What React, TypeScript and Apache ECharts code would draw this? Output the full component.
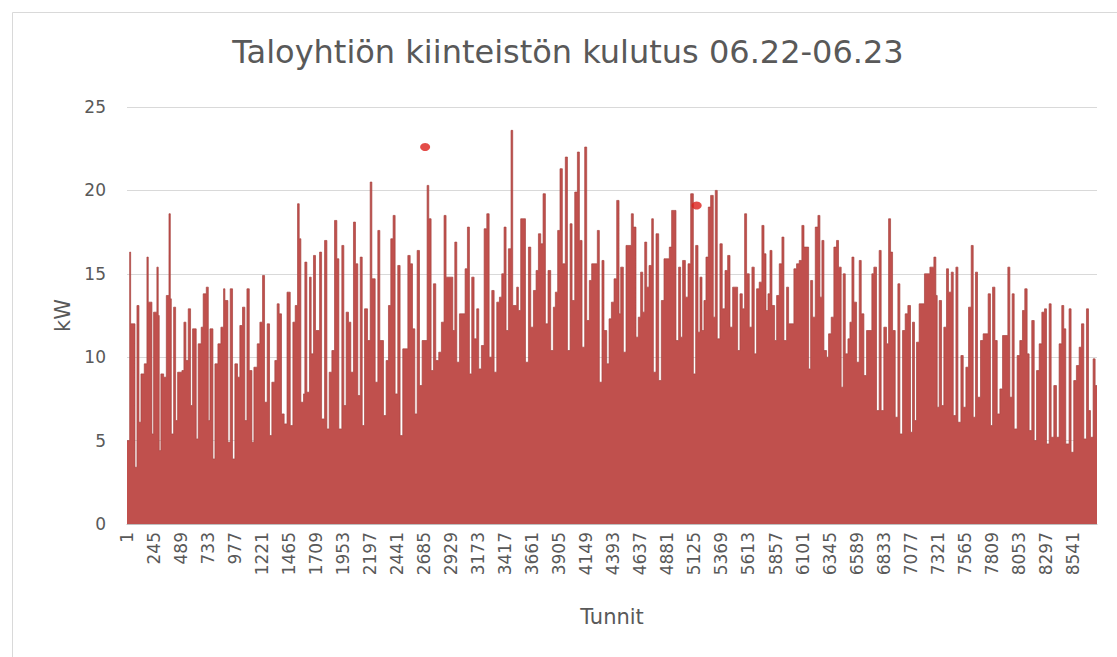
import React, { useEffect, useRef } from "react";
import * as echarts from "echarts";

// Hour-of-year index (0 = first hour) where each reading of the profile starts;
// the value holds until the next reading (hourly bars).
const hourIndex: number[] = [
  0, 24, 33, 72, 90, 108, 126, 156, 180, 192, 225, 240, 270, 282, 291, 306, 331, 355, 379, 391,
  400, 421, 439, 457, 496, 514, 532, 553, 574, 592, 625, 643, 670, 688, 716, 734, 749, 776, 794, 821,
  848, 872, 884, 911, 932, 953, 974, 998, 1019, 1043, 1064, 1083, 1104, 1128, 1146, 1176, 1200, 1224, 1242, 1266,
  1287, 1308, 1335, 1356, 1374, 1395, 1419,
  1445, 1474, 1498, 1519, 1540, 1555, 1570, 1594, 1606, 1624, 1648, 1663, 1684, 1702, 1739, 1757, 1784, 1805,
  1826, 1850, 1874, 1895, 1913, 1940, 1958, 1979, 2000, 2021, 2045, 2063, 2084, 2106, 2124, 2145, 2172, 2196,
  2211, 2241, 2265, 2283, 2316, 2340, 2361, 2382, 2403, 2421, 2445, 2466, 2490, 2536, 2557, 2578, 2599, 2620,
  2641, 2665, 2710, 2725, 2746, 2767, 2788, 2815, 2839, 2863, 2881,
  2942, 2960, 2978, 3002, 3053, 3074, 3092, 3113, 3134, 3158, 3176, 3200, 3225, 3249, 3270, 3294, 3315, 3339,
  3363, 3384, 3405, 3423, 3444, 3468, 3483, 3519, 3534, 3555, 3598, 3625, 3646, 3670, 3694, 3715, 3736, 3757,
  3778, 3802, 3826, 3850, 3868, 3889, 3910, 3931, 3958, 3977, 4001, 4019, 4043, 4067, 4085, 4109, 4133, 4151,
  4175, 4196, 4247, 4265, 4289, 4307,
  4332, 4353, 4374, 4398, 4422, 4443, 4458, 4482, 4506, 4554, 4572, 4596, 4617, 4638, 4657, 4675, 4693, 4714,
  4738, 4753, 4777, 4801, 4825, 4849, 4897, 4918, 4957, 4981, 4999, 5017, 5042, 5066, 5090, 5114, 5135, 5156,
  5174, 5192, 5210, 5228, 5249, 5270, 5294, 5312, 5330, 5354, 5375, 5400, 5424, 5445, 5469, 5514, 5535, 5556,
  5577, 5595, 5619, 5643, 5664, 5685, 5709, 5733,
  5752, 5770, 5788, 5806, 5824, 5848, 5866, 5890, 5914, 5932, 5956, 5974, 6022, 6046, 6070, 6094, 6113, 6155,
  6173, 6191, 6215, 6239, 6257, 6275, 6293, 6317, 6335, 6359, 6383, 6407, 6425, 6449, 6467, 6486, 6510, 6528,
  6546, 6564, 6588, 6612, 6630, 6654, 6678, 6726, 6744, 6768, 6792, 6810, 6834, 6858, 6877, 6895, 6913, 6937,
  6961, 6979, 7003, 7027, 7051, 7075, 7093, 7111, 7129, 7153, 7201,
  7250, 7286, 7304, 7316, 7334, 7355, 7376, 7400, 7418, 7443, 7461, 7485, 7503, 7530, 7551, 7575, 7599, 7623,
  7641, 7662, 7680, 7707, 7731, 7776, 7797, 7816, 7837, 7858, 7882, 7906, 7954, 7972, 7993, 8011, 8038, 8062,
  8086, 8107, 8128, 8146, 8170, 8192, 8213, 8237, 8261, 8285, 8303, 8327, 8345, 8369, 8393, 8417, 8441, 8459,
  8477, 8507, 8525, 8549, 8573, 8598, 8619, 8640, 8664, 8682, 8700, 8724, 8742, 8759,
];

// Consumption (kW) for each reading above.
const consumptionKw: number[] = [
  5.0, 16.3, 12.0, 3.4, 13.1, 6.1, 9.0, 9.6, 16.0, 13.3, 5.4, 12.7, 15.4, 12.5, 4.4, 9.0, 8.8, 13.7, 18.6, 13.5,
  5.4, 13.0, 6.2, 9.1, 9.2, 12.1, 9.8, 12.9, 7.1, 11.7, 5.1, 10.8, 11.8, 13.8, 14.2, 6.2, 11.7, 3.9, 9.6, 10.8,
  11.8, 14.1, 13.4, 4.9, 14.1, 3.9, 9.6, 8.8, 11.9, 13.0, 6.2, 14.1, 9.2, 4.9, 9.4, 10.8, 12.1, 14.9, 7.3, 12.0,
  5.3, 8.5, 9.8, 13.2, 12.6, 6.6, 6.0,
  13.9, 5.9, 12.1, 13.1, 19.2, 17.1, 7.3, 7.8, 15.7, 7.9, 14.8, 10.2, 16.1, 11.6, 16.3, 6.3, 17.0, 5.7,
  9.1, 10.4, 18.2, 15.9, 5.7, 16.7, 7.1, 12.7, 12.1, 9.1, 18.1, 15.6, 7.7, 16.0, 5.9, 12.9, 11.0, 20.5,
  14.7, 8.5, 17.6, 11.0, 6.5, 9.8, 13.1, 17.1, 18.5, 7.8, 15.5, 5.3, 10.5, 16.1, 15.6, 11.7, 6.6, 16.4,
  8.3, 11.0, 20.3, 18.3, 9.2, 14.4, 9.8, 10.3, 12.1, 18.5, 14.8,
  11.6, 16.9, 9.7, 12.6, 15.3, 17.8, 9.0, 14.8, 11.1, 12.9, 9.3, 10.7, 17.7, 18.6, 10.0, 14.0, 9.1, 13.3,
  13.6, 15.0, 17.8, 11.6, 16.5, 23.6, 13.1, 14.2, 12.8, 18.3, 9.7, 16.6, 11.8, 14.0, 15.2, 17.4, 16.8, 19.8,
  12.0, 15.2, 10.4, 13.0, 13.9, 17.6, 21.3, 15.6, 22.0, 10.4, 18.0, 13.4, 19.9, 22.3, 17.0, 10.6, 22.6, 12.2,
  14.6, 15.6, 17.6, 8.5, 15.8, 11.6,
  9.6, 12.3, 13.3, 14.7, 19.4, 12.6, 15.4, 10.3, 16.7, 18.6, 17.8, 11.2, 12.4, 15.1, 12.7, 16.9, 14.2, 15.5,
  18.3, 9.1, 17.4, 8.6, 13.4, 15.9, 16.6, 18.8, 11.0, 15.4, 11.2, 15.8, 13.6, 15.6, 19.8, 9.0, 16.7, 11.5,
  14.8, 11.6, 13.4, 16.0, 19.0, 19.7, 12.4, 20.0, 11.1, 16.8, 12.9, 15.2, 16.1, 11.8, 14.2, 10.4, 13.8, 12.9,
  18.6, 15.0, 11.8, 15.4, 10.2, 14.1, 14.5, 17.9,
  16.2, 12.8, 13.8, 16.4, 13.1, 11.0, 13.7, 15.6, 17.2, 11.0, 14.2, 12.0, 15.3, 15.6, 15.8, 17.9, 16.6, 9.3,
  14.6, 12.4, 17.8, 18.5, 13.6, 17.0, 10.4, 10.0, 11.4, 12.4, 16.6, 17.0, 15.4, 8.2, 15.0, 10.2, 11.1, 12.1,
  16.0, 13.3, 9.7, 15.8, 12.6, 8.9, 11.6, 15.0, 15.4, 6.8, 16.4, 6.8, 11.8, 10.8, 18.3, 16.3, 11.6, 6.4,
  14.4, 5.4, 11.6, 12.6, 13.1, 5.5, 12.1, 6.2, 10.9, 13.2, 15.0,
  15.4, 16.0, 13.7, 7.0, 13.4, 7.1, 11.8, 15.3, 13.9, 15.1, 6.5, 15.4, 6.1, 10.1, 7.0, 9.4, 13.0, 16.7,
  6.4, 15.1, 7.6, 11.0, 11.4, 13.8, 5.9, 14.2, 11.0, 6.6, 8.1, 11.3, 15.4, 7.6, 13.8, 5.7, 10.1, 11.0,
  12.8, 14.1, 10.2, 5.6, 12.2, 5.0, 9.2, 10.8, 12.7, 12.9, 4.8, 13.2, 5.2, 8.3, 5.2, 10.8, 13.1, 11.7,
  4.8, 12.9, 4.3, 8.6, 9.5, 10.6, 12.0, 5.1, 12.9, 6.8, 5.2, 9.9, 8.3, 8.3,
];

// Two highlighted points (red dots).
const markHourIndex: number[] = [2692, 5144];
const markKw: number[] = [22.6, 19.1];

const HOURS_IN_YEAR = 8760;
const hourLabels: string[] = Array.from({ length: HOURS_IN_YEAR }, (_, i) => String(i + 1));

const TITLE = "Taloyhtiön kiinteistön kulutus 06.22-06.23";
const GRAY = "#595959";
const FONT = "DejaVu Sans";

export default function App() {
  const ref = useRef<HTMLDivElement>(null);

  useEffect(() => {
    if (!ref.current) return;
    const chart = echarts.init(ref.current, undefined, { renderer: "svg" });
    const lineData = hourIndex.map((h, i) => [h, consumptionKw[i]]);
    const markData = markHourIndex.map((h, i) => [h, markKw[i]]);

    chart.setOption({
      animation: false,
      backgroundColor: "#ffffff",
      graphic: [
        {
          type: "rect",
          shape: { x: 12.5, y: 12.5, width: 1120, height: 660 },
          style: { fill: "none", stroke: "#d9d9d9", lineWidth: 1 },
          silent: true,
        },
        {
          type: "text",
          x: 568,
          y: 52,
          style: {
            text: TITLE,
            fill: GRAY,
            font: `32px "${FONT}"`,
            textAlign: "center",
            textVerticalAlign: "middle",
          },
          silent: true,
        },
      ],
      grid: { left: 127, right: 20, top: 107, bottom: 133 },
      xAxis: {
        type: "category",
        data: hourLabels,
        boundaryGap: false,
        name: "Tunnit",
        nameLocation: "middle",
        nameGap: 82,
        nameTextStyle: { color: GRAY, fontSize: 21, fontFamily: FONT },
        axisLine: { show: true, lineStyle: { color: "#bfbfbf", width: 1 } },
        axisTick: { show: false },
        axisLabel: {
          interval: 243,
          rotate: 90,
          margin: 8,
          color: GRAY,
          fontSize: 17,
          fontFamily: FONT,
        },
        splitLine: { show: false },
      },
      yAxis: {
        type: "value",
        min: 0,
        max: 25,
        interval: 5,
        name: "kW",
        nameLocation: "middle",
        nameGap: 54,
        nameTextStyle: { color: GRAY, fontSize: 21, fontFamily: FONT },
        axisLine: { show: false },
        axisTick: { show: false },
        axisLabel: { color: GRAY, fontSize: 17, fontFamily: FONT, margin: 21 },
        splitLine: { lineStyle: { color: "#d9d9d9", width: 1 } },
      },
      series: [
        {
          type: "line",
          step: "end",
          data: lineData,
          showSymbol: false,
          symbol: "none",
          lineStyle: { color: "#a8433f", width: 0.7 },
          areaStyle: { color: "#c0504d", opacity: 1 },
          z: 2,
        },
        {
          type: "scatter",
          data: markData,
          symbol: "circle",
          symbolSize: [10, 8],
          itemStyle: { color: "#dc1f1a" },
          z: 3,
        },
      ],
    });

    return () => chart.dispose();
  }, []);

  return (
    <div
      ref={ref}
      style={{ position: "absolute", left: 0, top: 0, width: 1117, height: 657 }}
    />
  );
}
